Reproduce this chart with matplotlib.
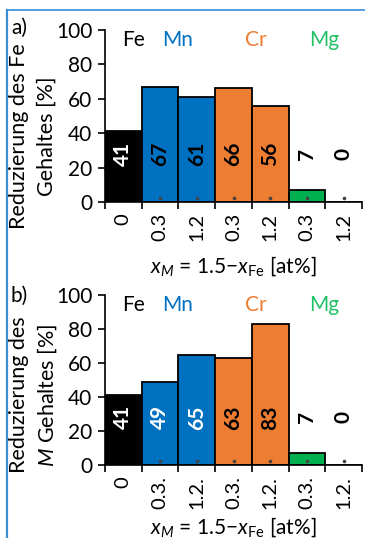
import matplotlib.pyplot as plt
from matplotlib.lines import Line2D

plt.rcParams['font.family'] = ['Lato', 'DejaVu Sans']
plt.rcParams['mathtext.fontset'] = 'custom'
plt.rcParams['mathtext.rm'] = 'Lato'
plt.rcParams['mathtext.it'] = 'Lato:italic'

# data
elements = ['Fe', 'Mn', 'Cr', 'Mg']
tick_a = ['0', '0.3', '1.2', '0.3', '1.2', '0.3', '1.2']
tick_b = ['0', '0.3.', '1.2.', '0.3.', '1.2.', '0.3.', '1.2.']
fe_red = [41, 67, 61, 66, 56, 7, 0]
m_red = [41, 49, 65, 63, 83, 7, 0]

BLACK = '#000000'
BLUE = '#0070C0'
ORANGE = '#ED7D31'
GREEN = '#00B050'
bar_cols = [BLACK, BLUE, BLUE, ORANGE, ORANGE, GREEN, GREEN]
elem_cols = [BLACK, BLUE, ORANGE, '#22C065']
elem_x = [0.27, 1.48, 3.6, 5.46]
txt_a = ['white', 'black', 'black', 'black', 'black', 'black', 'black']
txt_b = ['white', 'white', 'white', 'black', 'black', 'black', 'black']

W, H = 365, 538
fig = plt.figure(figsize=(W / 100, H / 100), dpi=100)


def px(x, y):
    return x / W, 1 - y / H


def panel(top, bottom, vals, ticks, tcols, label, lab_y, yl1, yl2, yl_y, xl_y):
    l, b = px(105, bottom)
    r, t = px(362, top)
    ax = fig.add_axes([l, b, r - l, t - b])
    x = list(range(len(vals)))
    ax.bar(x, vals, width=1.0, color=bar_cols, edgecolor='black', linewidth=1.3, zorder=2)
    for i, v in enumerate(vals):
        ax.text(i, 28, str(v), rotation=90, ha='center', va='center',
                fontsize=15, fontweight='bold', color=tcols[i], zorder=3)
        if i > 0:
            ax.plot(i, 2.5, marker='o', ms=1.6, color='#444444', zorder=3)
    for e, c, ex in zip(elements, elem_cols, elem_x):
        ax.text(ex, 94, e, ha='center', va='center', fontsize=15, color=c)
    ax.set_xlim(-0.5, 6.5)
    ax.set_ylim(0, 100)
    ax.set_yticks(range(0, 101, 20))
    ax.set_xticks(x)
    ax.set_xticklabels(ticks, rotation=90, va='top')
    ax.set_xticks([i - 0.5 for i in range(len(vals) + 1)], minor=True)
    ax.tick_params(axis='x', which='major', length=0, pad=8, labelsize=14.5)
    ax.tick_params(axis='x', which='minor', length=5, width=1.2, direction='out')
    ax.tick_params(axis='y', length=5, width=1.2, pad=4, labelsize=15)
    for s in ['top', 'right']:
        ax.spines[s].set_visible(False)
    for s in ['left', 'bottom']:
        ax.spines[s].set_linewidth(1.2)
    lx, ly = px(19, lab_y)
    fig.text(lx, ly, label, fontsize=15, ha='center', va='center')
    fx, fy = px(19, yl_y)
    fig.text(fx, fy, yl1, rotation=90, ha='center', va='center', fontsize=15.5)
    fx, fy = px(47, yl_y)
    fig.text(fx, fy, yl2, rotation=90, ha='center', va='center', fontsize=15.5)
    cx, cy = px(233, xl_y)
    fig.text(cx, cy, r'$x_M$ = 1.5$-$$x_{\mathrm{Fe}}$ [at%]', ha='center', va='center', fontsize=15)
    return ax


panel(30, 202, fe_red, tick_a, txt_a, 'a)', 28, 'Reduzierung des Fe', 'Gehaltes [%]', 136, 266)
panel(295, 465, m_red, tick_b, txt_b, 'b)', 296, 'Reduzierung des', r'$M$ Gehaltes [%]', 395, 527)

# blue frame
x0, y0 = px(7, 10)
fig.add_artist(Line2D([x0, 1], [y0, y0], color='#3B8ED8', lw=1.2, transform=fig.transFigure))
fig.add_artist(Line2D([x0, x0], [0, y0], color='#3B8ED8', lw=1.6, transform=fig.transFigure))

fig.savefig('out.png', dpi=100)
